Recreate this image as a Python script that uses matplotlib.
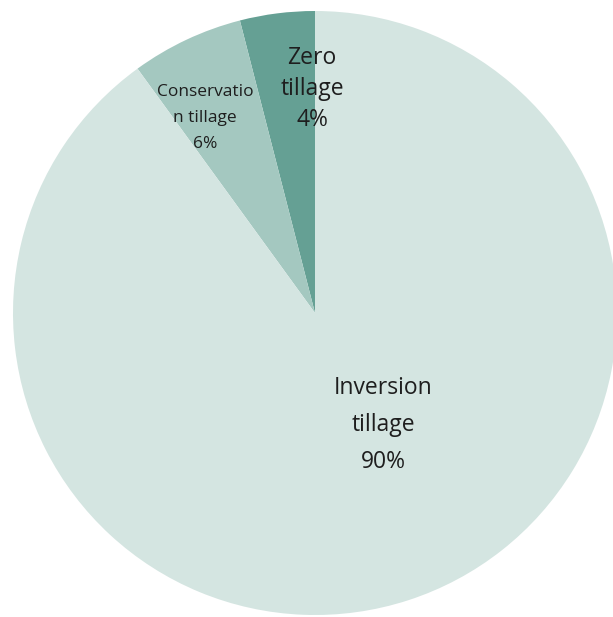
import matplotlib.pyplot as plt

# Tillage practice shares (%)
practices = ["Zero\ntillage", "Conservatio\nn tillage", "Inversion\ntillage"]
shares = [4, 6, 90]
colors = ["#65A094", "#A4C8C0", "#D4E5E1"]

fig = plt.figure(figsize=(6.13, 6.17), dpi=100)
ax = fig.add_axes([13 / 613, 2 / 617, 604 / 613, 604 / 617])

wedges, _ = ax.pie(shares, colors=colors, startangle=90, counterclock=True,
                   radius=1, wedgeprops={"linewidth": 0})
ax.set_xlim(-1, 1)
ax.set_ylim(-1, 1)

# label positions inside each slice
label_pos = [(-0.01, 0.742), (-0.364, 0.646), (0.225, -0.372)]
label_size = [16.5, 12.5, 16.5]
label_spacing = [1.4, 1.8, 1.72]
for name, val, (x, y), fs, ls in zip(practices, shares, label_pos, label_size, label_spacing):
    ax.text(x, y, f"{name}\n{val}%", ha="center", va="center", fontsize=fs,
            color="#1e1e1e", family="Open Sans", linespacing=ls)

fig.savefig("out.png", dpi=100)
